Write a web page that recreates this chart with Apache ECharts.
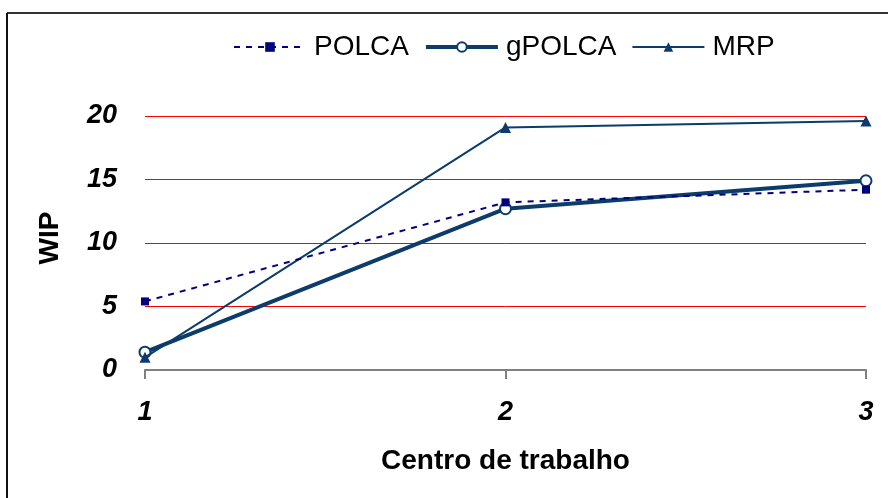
<!DOCTYPE html>
<html>
<head>
<meta charset="utf-8">
<script src="https://cdn.jsdelivr.net/npm/echarts@6/dist/echarts.min.js"></script>
<style>
  html, body { margin: 0; padding: 0; background: #fff; }
  #chart { width: 888px; height: 498px; }
</style>
</head>
<body>
<div id="chart"></div>
<script>
// Work centres on the x axis
const categories = ['1', '2', '3'];
// WIP per work centre for each control system
const polca = [5.4, 13.2, 14.2];
const gpolca = [1.4, 12.7, 14.9];
const mrp = [1.0, 19.1, 19.6];
// Y axis range
const yMin = 0, yMax = 20, yStep = 5;

const FONT = "'Liberation Sans', Arial, sans-serif";
const DARK_BLUE = '#0b3c6c';
const NAVY = '#000080';
const chart = echarts.init(document.getElementById('chart'), null, { renderer: 'canvas' });

chart.setOption({
  backgroundColor: '#ffffff',
  animation: false,
  textStyle: { fontFamily: FONT },
  graphic: [
    { type: 'line', shape: { x1: 7, y1: 13, x2: 888, y2: 13 }, style: { stroke: '#333333', lineWidth: 2 } },
    { type: 'line', shape: { x1: 7, y1: 13, x2: 7, y2: 498 }, style: { stroke: '#111111', lineWidth: 2 } }
  ],
  legend: {
    left: 228,
    top: 28,
    itemWidth: 72,
    itemHeight: 12,
    itemGap: 15,
    textStyle: { fontFamily: FONT, fontSize: 28, color: '#000', padding: [0, 0, 0, 3] },
    data: [
      { name: 'POLCA' },
      { name: 'gPOLCA', lineStyle: { width: 4 } },
      { name: 'MRP' }
    ]
  },
  grid: { left: 145, right: 22, top: 116, bottom: 128, containLabel: false },
  xAxis: {
    type: 'category',
    data: categories,
    boundaryGap: false,
    name: 'Centro de trabalho',
    nameLocation: 'middle',
    nameGap: 77,
    nameTextStyle: { fontFamily: FONT, fontSize: 28, fontWeight: 'bold', color: '#000' },
    axisLine: { lineStyle: { color: '#808080', width: 2 } },
    axisTick: { show: true, length: 9, lineStyle: { color: '#808080', width: 2 } },
    axisLabel: { margin: 29, fontFamily: FONT, fontSize: 27, fontWeight: 'bold', fontStyle: 'italic', color: '#000' },
    splitLine: { show: false }
  },
  yAxis: {
    type: 'value',
    min: yMin,
    max: yMax,
    interval: yStep,
    name: 'WIP',
    nameLocation: 'middle',
    nameGap: 81,
    nameRotate: 90,
    nameTextStyle: { fontFamily: FONT, fontSize: 28, fontWeight: 'bold', color: '#000', padding: [0, 0, 0, 10] },
    axisLine: { show: false },
    axisTick: { show: false },
    axisLabel: { margin: 28, fontFamily: FONT, fontSize: 27, fontWeight: 'bold', fontStyle: 'italic', color: '#000' },
    splitLine: { show: true, lineStyle: { color: '#ff0000', width: 1 } }
  },
  series: [
    {
      name: 'gPOLCA',
      type: 'line',
      data: gpolca,
      z: 3,
      symbol: 'circle',
      symbolSize: 11,
      lineStyle: { color: DARK_BLUE, width: 4 },
      itemStyle: { color: '#ffffff', borderColor: DARK_BLUE, borderWidth: 2 }
    },
    {
      name: 'MRP',
      type: 'line',
      data: mrp,
      z: 4,
      symbol: 'triangle',
      symbolSize: 11,
      lineStyle: { color: DARK_BLUE, width: 2 },
      itemStyle: { color: DARK_BLUE }
    },
    {
      name: 'POLCA',
      type: 'line',
      data: polca,
      z: 5,
      symbol: 'rect',
      symbolSize: 8,
      lineStyle: { color: NAVY, width: 2, type: [6, 6] },
      itemStyle: { color: NAVY }
    }
  ]
});
</script>
</body>
</html>
